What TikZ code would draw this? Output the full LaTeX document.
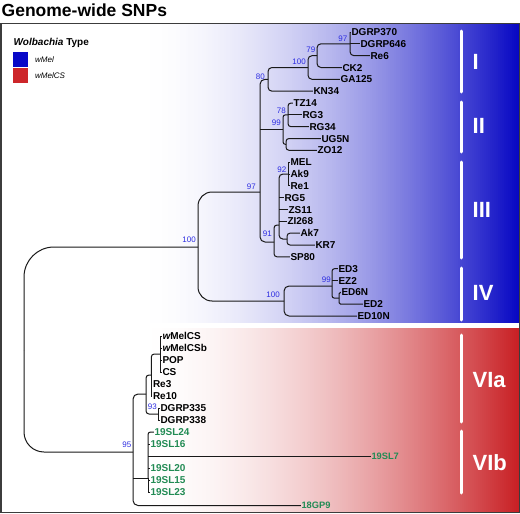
\documentclass[tikz,border=0pt]{standalone}
\usepackage{fontspec}
\setmainfont{Liberation Sans}
\definecolor{bluend}{RGB}{5,5,195}
\definecolor{redend}{RGB}{200,30,35}
\definecolor{legblue}{RGB}{8,8,200}
\definecolor{legred}{RGB}{205,38,42}
\definecolor{bootblue}{RGB}{45,45,225}
\definecolor{leafgreen}{RGB}{34,139,84}
\definecolor{framegray}{RGB}{60,60,60}
\begin{document}
\begin{tikzpicture}[x=1pt,y=-1pt,
  br/.style={line width=1pt, draw=black!90},
  leaf/.style={anchor=west, inner xsep=0.5pt, inner ysep=0pt, text height=7.2pt, text depth=0pt, font=\bfseries\fontsize{10}{12}\selectfont},
  leafg/.style={leaf, text=leafgreen},
  leafgs/.style={leafg, text height=6.7pt, font=\bfseries\fontsize{9.3}{11}\selectfont},
  boot/.style={anchor=east, inner sep=0pt, text height=5.8pt, text depth=0pt, text=bootblue, font=\fontsize{8}{9}\selectfont},
  cladebar/.style={draw=white, line width=3pt, line cap=round},
  cladelab/.style={anchor=west, inner sep=0pt, text=white, text height=15.7pt, text depth=0pt, font=\bfseries\fontsize{22}{24}\selectfont}]
\useasboundingbox (0,0) rectangle (520,514);
\fill[white] (0,0) rectangle (520,514);
% gradient backgrounds
\begin{scope}
\clip (1.5,24) rectangle (519,512);
\foreach \i in {0,...,189} {
  \pgfmathsetmacro{\xa}{140+2*\i}
  \pgfmathsetmacro{\f}{100*pow((2*\i+1)/380,1.8)}
  \fill[bluend!\f!white] (\xa,24) rectangle ({\xa+2.6},323);
  \fill[redend!\f!white] (\xa,328) rectangle ({\xa+2.6},512);
}
\end{scope}
\draw[framegray, line width=1.2pt] (1,23.5) rectangle (519.5,512.5);
% title
\node[anchor=base west, inner sep=0pt, font=\bfseries\fontsize{17.5}{20}\selectfont] (title) at (1.5,16.5) {Genome-wide SNPs};
% legend
\node[anchor=base west, inner sep=0pt, font=\bfseries\fontsize{10}{12}\selectfont] (legtitle) at (13.5,45.8) {\textit{Wolbachia} Type};
\node[fill=legblue, minimum size=14.8pt, inner sep=0pt] (legb) at (20.8,59.2) {};
\node[fill=legred, minimum size=14.8pt, inner sep=0pt] (legr) at (20.8,75.5) {};
\node[anchor=base west, inner sep=0pt, font=\itshape\fontsize{8}{9}\selectfont] (legbt) at (35,62.9) {wMel};
\node[anchor=base west, inner sep=0pt, font=\itshape\fontsize{8}{9}\selectfont] (legrt) at (35,78.9) {wMelCS};
% clade bars and labels
\coordinate (c1a) at (461,31);  \coordinate (c1b) at (461,92);
\coordinate (c2a) at (461,102); \coordinate (c2b) at (461,152);
\coordinate (c3a) at (461,162); \coordinate (c3b) at (461,258);
\coordinate (c4a) at (461,268); \coordinate (c4b) at (461,320);
\coordinate (c5a) at (461,335); \coordinate (c5b) at (461,422);
\coordinate (c6a) at (461,431); \coordinate (c6b) at (461,493);
\draw[cladebar] (c1a) -- (c1b);
\draw[cladebar] (c2a) -- (c2b);
\draw[cladebar] (c3a) -- (c3b);
\draw[cladebar] (c4a) -- (c4b);
\draw[cladebar] (c5a) -- (c5b);
\draw[cladebar] (c6a) -- (c6b);
\node[cladelab] (lI) at (472.5,62) {I};
\node[cladelab] (lII) at (472.5,126) {II};
\node[cladelab] (lIII) at (472.5,210) {III};
\node[cladelab] (lIV) at (472.5,293) {IV};
\node[cladelab] (lVIa) at (472.5,380) {VIa};
\node[cladelab] (lVIb) at (472.5,463) {VIb};
% leaves, upper tree
\node[leaf] (dgrp370) at (350.8,32.0) {DGRP370};
\node[leaf] (dgrp646) at (359.8,43.8) {DGRP646};
\node[leaf] (re6) at (369.8,55.7) {Re6};
\node[leaf] (ck2) at (341.8,67.5) {CK2};
\node[leaf] (ga125) at (339.8,79.3) {GA125};
\node[leaf] (kn34) at (312.8,91.2) {KN34};
\node[leaf] (tz14) at (292.8,103.0) {TZ14};
\node[leaf] (rg3) at (301.8,114.8) {RG3};
\node[leaf] (rg34) at (308.8,126.7) {RG34};
\node[leaf] (ug5n) at (320.8,138.5) {UG5N};
\node[leaf] (zo12) at (316.8,150.3) {ZO12};
\node[leaf] (mel) at (289.8,162.2) {MEL};
\node[leaf] (ak9) at (289.8,174.0) {Ak9};
\node[leaf] (re1) at (289.8,185.8) {Re1};
\node[leaf] (rg5) at (283.8,197.7) {RG5};
\node[leaf] (zs11) at (287.8,209.5) {ZS11};
\node[leaf] (zi268) at (286.8,221.3) {ZI268};
\node[leaf] (ak7) at (299.8,233.2) {Ak7};
\node[leaf] (kr7) at (314.8,245.0) {KR7};
\node[leaf] (sp80) at (289.8,256.8) {SP80};
\node[leaf] (ed3) at (337.8,268.7) {ED3};
\node[leaf] (ez2) at (337.8,280.5) {EZ2};
\node[leaf] (ed6n) at (340.8,292.3) {ED6N};
\node[leaf] (ed2) at (362.8,304.2) {ED2};
\node[leaf] (ed10n) at (356.8,316.0) {ED10N};
% leaves, lower tree
\node[leaf] (wmelcs) at (161.8,336) {{\itshape w}MelCS};
\node[leaf] (wmelcsb) at (161.8,348) {{\itshape w}MelCSb};
\node[leaf] (pop) at (161.8,360) {POP};
\node[leaf] (cs) at (161.8,372) {CS};
\node[leaf] (re3) at (152.3,384) {Re3};
\node[leaf] (re10) at (152.3,396) {Re10};
\node[leaf] (dgrp335) at (159.8,408) {DGRP335};
\node[leaf] (dgrp338) at (159.8,420) {DGRP338};
\node[leafg] (sl24) at (153.8,432) {19SL24};
\node[leafg] (sl16) at (149.8,444) {19SL16};
\node[leafgs] (sl7) at (370.8,456) {19SL7};
\node[leafg] (sl20) at (149.8,468) {19SL20};
\node[leafg] (sl15) at (149.8,480) {19SL15};
\node[leafg] (sl23) at (149.8,492) {19SL23};
\node[leafgs] (gp9) at (300.8,505.5) {18GP9};
% internal nodes
\coordinate (R) at (24,350);
\coordinate (A) at (198,247);
\coordinate (B) at (260,192);
\coordinate (C) at (268,79.3);
\coordinate (D) at (308,67.5);
\coordinate (E) at (317,55.7);
\coordinate (F) at (350,43.8);
\coordinate (H) at (283,129.6);
\coordinate (I) at (288,114.8);
\coordinate (J) at (286,144.4);
\coordinate (G) at (274,242);
\coordinate (N) at (279,225);
\coordinate (O) at (288.8,174.0);
\coordinate (P) at (287,239.1);
\coordinate (K) at (284,301);
\coordinate (L) at (332,286);
\coordinate (M) at (339,298.2);
\coordinate (Q) at (133,452);
\coordinate (S) at (146,394);
\coordinate (U) at (151.3,375);
\coordinate (W) at (160,354);
\coordinate (V) at (158,414);
\coordinate (T) at (148,478);
% branches
\draw[br, rounded corners=30pt] (A) -- (A -| R) -- (R);
\draw[br, rounded corners=20pt] (Q) -- (Q -| R) -- (R);
\draw[br, rounded corners=14pt] (B) -- (B -| A) -- (K -| A) -- (K);
\draw[br, rounded corners=5pt] (C) -- (C -| B) -- (G -| B) -- (G);
\draw[br] (H -| B) -- (H);
\draw[br, rounded corners=4pt] (D) -- (D -| C) -- (kn34.west -| C) -- (kn34.west);
\draw[br, rounded corners=4pt] (E) -- (E -| D) -- (ga125.west -| D) -- (ga125.west);
\draw[br, rounded corners=4pt] (F) -- (F -| E) -- (ck2.west -| E) -- (ck2.west);
\draw[br, rounded corners=4pt] (dgrp370.west -| F) -- (re6.west -| F) -- (re6.west);
\draw[br] (dgrp370.west -| F) -- (dgrp370.west);
\draw[br] (F) -- (dgrp646.west);
\draw[br, rounded corners=2.5pt] (I) -- (I -| H) -- (J -| H) -- (J);
\draw[br, rounded corners=3pt] (tz14.west) -- (tz14.west -| I) -- (rg34.west -| I) -- (rg34.west);
\draw[br] (I) -- (rg3.west);
\draw[br, rounded corners=3pt] (ug5n.west) -- (ug5n.west -| J) -- (zo12.west -| J) -- (zo12.west);
\draw[br, rounded corners=3pt] (N) -- (N -| G) -- (sp80.west -| G) -- (sp80.west);
\draw[br, rounded corners=4pt] (O) -- (O -| N) -- (P -| N) -- (P);
\draw[br] (rg5.west -| N) -- (rg5.west);
\draw[br] (zs11.west -| N) -- (zs11.west);
\draw[br] (zi268.west -| N) -- (zi268.west);
\draw[br] (mel.west -| O) -- (re1.west -| O);
\draw[br] (mel.west -| O) -- (mel.west);
\draw[br] (O) -- (ak9.west);
\draw[br] (re1.west -| O) -- (re1.west);
\draw[br, rounded corners=3pt] (ak7.west) -- (ak7.west -| P) -- (kr7.west -| P) -- (kr7.west);
\draw[br, rounded corners=5pt] (L) -- (L -| K) -- (ed10n.west -| K) -- (ed10n.west);
\draw[br, rounded corners=2.5pt] (ed3.west) -- (ed3.west -| L) -- (M -| L) -- (M);
\draw[br] (ez2.west -| L) -- (ez2.west);
\draw[br, rounded corners=1.5pt] (ed6n.west) -- (ed6n.west -| M) -- (ed2.west -| M) -- (ed2.west);
\draw[br, rounded corners=5pt] (S) -- (S -| Q) -- (gp9.west -| Q) -- (gp9.west);
\draw[br] (T -| Q) -- (T);
\draw[br, rounded corners=3pt] (U) -- (U -| S) -- (V -| S) -- (V);
\draw[br, rounded corners=3pt] (W) -- (W -| U) -- (U);
\draw[br] (U) -- (re10.west -| U) -- (re10.west);
\draw[br] (re3.west -| U) -- (re3.west);
\draw[br] (wmelcs.west -| W) -- (cs.west -| W);
\draw[br] (wmelcs.west -| W) -- (wmelcs.west);
\draw[br] (wmelcsb.west -| W) -- (wmelcsb.west);
\draw[br] (pop.west -| W) -- (pop.west);
\draw[br] (cs.west -| W) -- (cs.west);
\draw[br] (dgrp335.west) -- (dgrp335.west -| V) -- (dgrp338.west -| V) -- (dgrp338.west);
\draw[br, rounded corners=2.5pt] (sl24.west) -- (sl24.west -| T) -- (T);
\draw[br] (T) -- (sl23.west -| T) -- (sl23.west);
\draw[br] (sl16.west -| T) -- (sl16.west);
\draw[br] (sl7.west -| T) -- (sl7.west);
\draw[br] (sl20.west -| T) -- (sl20.west);
\draw[br] (sl15.west -| T) -- (sl15.west);
% bootstrap values
\node[boot] (bA) at (196,240) {100};
\node[boot] (bB) at (256,187) {97};
\node[boot] (bC) at (265,77) {80};
\node[boot] (bD) at (306,62) {100};
\node[boot] (bE) at (315.5,50) {79};
\node[boot] (bF) at (347.5,39) {97};
\node[boot] (bI) at (286,111) {78};
\node[boot] (bH) at (281,123) {99};
\node[boot] (bO) at (286.5,170) {92};
\node[boot] (bG) at (272,234) {91};
\node[boot] (bK) at (280,295) {100};
\node[boot] (bL) at (331,280) {99};
\node[boot] (bQ) at (131.5,445) {95};
\node[boot] (bV) at (157,407) {93};
\end{tikzpicture}
\end{document}
